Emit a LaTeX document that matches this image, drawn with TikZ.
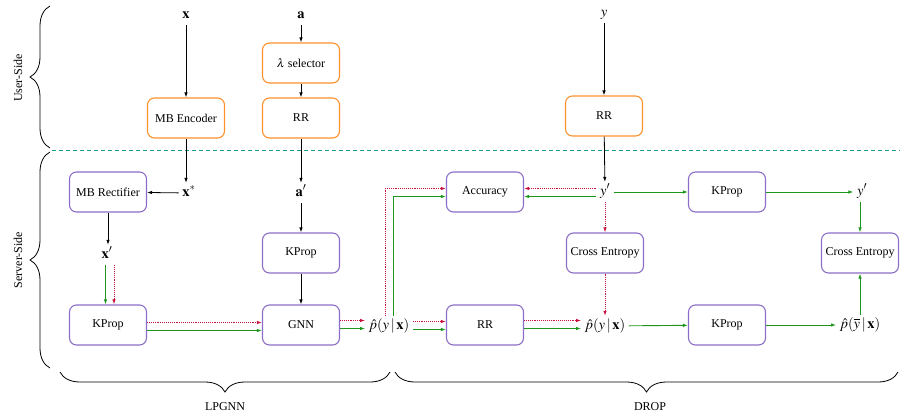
\documentclass[tikz,border=0pt]{standalone}
\usepackage{mathptmx}
\usepackage{fontspec}
\setmainfont{Liberation Serif}
\usetikzlibrary{arrows.meta,decorations.pathreplacing,calc}
\definecolor{uorange}{RGB}{255,145,45}
\definecolor{spurple}{RGB}{140,110,200}
\definecolor{rcol}{RGB}{200,20,60}
\definecolor{gcol}{RGB}{30,150,30}
\definecolor{tealc}{RGB}{20,160,150}
\begin{document}
\begin{tikzpicture}[x=1pt,y=-1pt,font=\fontsize{12}{14}\selectfont,
  ubox/.style={draw=uorange,line width=1.1pt,rounded corners=7pt,minimum width=77pt,minimum height=40pt,inner sep=0pt,align=center},
  sbox/.style={draw=spurple,line width=1.1pt,rounded corners=7pt,minimum width=77pt,minimum height=40pt,inner sep=0pt,align=center},
  lbl/.style={inner sep=3.5pt,text height=9.5pt,text depth=3.5pt,font=\fontsize{14.5}{16}\selectfont},
  karrow/.style={draw=black,line width=0.8pt,-{Latex[length=5pt,width=3.5pt]}},
  garrow/.style={draw=gcol,line width=0.9pt,-{Latex[length=5pt,width=3.5pt]}},
  rarrow/.style={draw=rcol,line width=0.9pt,densely dotted,-{Latex[length=5pt,width=3.5pt]}},
  bracestyle/.style={draw=black,line width=0.8pt,decorate,decoration={brace,amplitude=20pt}}
]
\useasboundingbox (0,0) rectangle (900,418);

% braces and side labels
\draw[bracestyle] (50,148) -- (50,6);
\draw[bracestyle] (50,368) -- (50,152);
\draw[bracestyle] (390,372) -- (60,372);
\draw[bracestyle] (898,372) -- (395,372);
\node[rotate=90] (us) at (18,78) {User-Side};
\node[rotate=90] (ss) at (18,260) {Server-Side};
\node (lp) at (225,407) {LPGNN};
\node (dr) at (650,407) {DROP};

\draw[tealc,line width=0.9pt,dash pattern=on 4pt off 3pt] (52,150) -- (900,150);

% nodes
\node[lbl] (x) at (186,15) {$\mathbf{x}$};
\node[ubox] (enc) at (186,118) {MB Encoder};
\node[lbl] (a) at (301,15) {$\mathbf{a}$};
\node[ubox] (lam) at (301,63) {$\lambda$ selector};
\node[ubox] (rra) at (301,118) {RR};
\node[lbl] (y) at (604,13) {$y$};
\node[ubox] (rry) at (604,116) {RR};
\node[sbox] (rect) at (108,192) {MB Rectifier};
\node[lbl] (xs) at (189,193) {$\mathbf{x}^{*}$};
\node[lbl] (ap) at (301,193) {$\mathbf{a}'$};
\node[lbl] (xp) at (107,255) {$\mathbf{x}'$};
\node[sbox] (kpa) at (301,253) {KProp};
\node[sbox] (kp1) at (108,325) {KProp};
\node[sbox] (gnn) at (301,325) {GNN};
\node[lbl] (p1) at (389,326) {$\hat{p}(y\,|\,\mathbf{x})$};
\node[sbox] (acc) at (485,192) {Accuracy};
\node[sbox] (rrs) at (485,325) {RR};
\node[lbl] (p2) at (605,326) {$\hat{p}(y\,|\,\mathbf{x})$};
\node[lbl] (yp) at (605,192) {$y'$};
\node[sbox] (ce1) at (605,253) {Cross Entropy};
\node[sbox] (kp2) at (727,192) {KProp};
\node[sbox] (kp3) at (727,325) {KProp};
\node[lbl] (yp2) at (862,192) {$y'$};
\node[sbox] (ce2) at (860,253) {Cross Entropy};
\node[lbl] (p3) at (860,325) {$\hat{p}(\overline{y}\,|\,\mathbf{x})$};

% black connectors
\draw[karrow] (x) -- (enc);
\draw[karrow] (a) -- (lam);
\draw[karrow] (lam) -- (rra);
\draw[karrow] (y) -- (rry);
\draw[karrow] (enc.south) -- (enc.south |- xs.north);
\draw[karrow] (xs) -- (rect);
\draw[karrow] (rra) -- (ap);
\draw[karrow] (rect.south) -- (rect.south |- xp.north);
\draw[karrow] (ap) -- (kpa);
\draw[karrow] (kpa) -- (gnn);
\draw[karrow] (rry) -- (yp);

% LPGNN flows
\draw[garrow] ([xshift=-2.5pt]kp1.north |- xp.south) -- ([xshift=-2.5pt]kp1.north);
\draw[rarrow] ([xshift=6pt]kp1.north |- xp.south) -- ([xshift=6pt]kp1.north);
\draw[rarrow] ([yshift=2.5pt]kp1.east) -- ([yshift=2.5pt]gnn.west);
\draw[garrow] ([yshift=-5.5pt]kp1.east) -- ([yshift=-5.5pt]gnn.west);
\draw[rarrow] ([yshift=4.5pt]gnn.east) -- ([yshift=4.5pt]gnn.east -| p1.west);
\draw[garrow] ([yshift=-3.5pt]gnn.east) -- ([yshift=-3.5pt]gnn.east -| p1.west);

% DROP flows
\draw[rarrow] ([xshift=-4pt]p1.north) |- ([yshift=3.5pt]acc.west);
\draw[garrow] ([xshift=4pt]p1.north) |- ([yshift=-4.5pt]acc.west);
\draw[rarrow] ([yshift=4.5pt]p1.east) -- ([yshift=4.5pt]p1.east -| rrs.west);
\draw[garrow] ([yshift=-3.5pt]p1.east) -- ([yshift=-3.5pt]p1.east -| rrs.west);
\draw[rarrow] ([yshift=4.5pt]rrs.east) -- ([yshift=4.5pt]rrs.east -| p2.west);
\draw[garrow] ([yshift=-3.5pt]rrs.east) -- ([yshift=-3.5pt]rrs.east -| p2.west);
\draw[rarrow] ([yshift=3.5pt]yp.west) -- ([yshift=3.5pt]yp.west -| acc.east);
\draw[garrow] ([yshift=-4.5pt]yp.west) -- ([yshift=-4.5pt]yp.west -| acc.east);
\draw[garrow] (yp) -- (kp2);
\draw[garrow] (kp2) -- (yp2);
\draw[garrow] (yp2.south -| ce2.north) -- (ce2.north);
\draw[garrow] (p3.north -| ce2.south) -- (ce2.south);
\draw[rarrow] (yp) -- (ce1);
\draw[rarrow] (ce1) -- (p2);
\draw[garrow] (p2) -- (kp3);
\draw[garrow] (kp3) -- (p3);
\end{tikzpicture}
\end{document}
